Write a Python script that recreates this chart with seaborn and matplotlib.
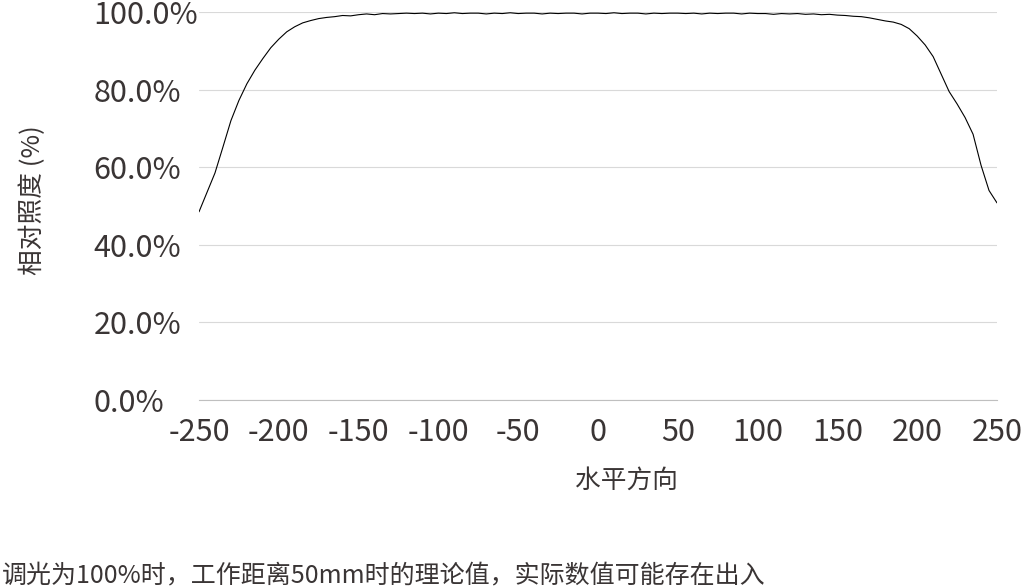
import numpy as np
import matplotlib
matplotlib.use("Agg")
import matplotlib.pyplot as plt
import seaborn as sns
from matplotlib.ticker import PercentFormatter, MultipleLocator

# horizontal position (mm) and relative illuminance (%)
positions = np.arange(-250, 255, 5)
illuminance = [
    48.5, 53.5, 58.5, 65.2, 72.0, 77.2, 81.5, 85.0, 88.0, 90.8,
    93.0, 94.9, 96.2, 97.2, 97.8, 98.3, 98.6, 98.8, 99.1, 99.0,
    99.3, 99.5, 99.3, 99.6, 99.5, 99.6, 99.7, 99.6, 99.7, 99.5,
    99.7, 99.6, 99.8, 99.6, 99.7, 99.7, 99.5, 99.7, 99.6, 99.8,
    99.6, 99.7, 99.7, 99.5, 99.7, 99.6, 99.7, 99.7, 99.5, 99.7,
    99.7, 99.6, 99.8, 99.6, 99.7, 99.7, 99.5, 99.7, 99.6, 99.7,
    99.7, 99.6, 99.7, 99.5, 99.7, 99.6, 99.7, 99.7, 99.5, 99.7,
    99.6, 99.6, 99.4, 99.6, 99.5, 99.6, 99.4, 99.5, 99.3, 99.4,
    99.2, 99.1, 98.9, 98.8, 98.5, 98.1, 97.7, 97.4, 96.8, 95.7,
    93.8, 91.5, 88.5, 84.0, 79.5, 76.3, 72.8, 68.5, 60.5, 54.0,
    50.8,
]
x_ticks = [-250, -200, -150, -100, -50, 0, 50, 100, 150, 200, 250]

sns.set_style("white")
plt.rcParams['font.family'] = ['Noto Sans CJK SC', 'DejaVu Sans']
plt.rcParams['axes.unicode_minus'] = False

text_color = '#3a3535'

fig = plt.figure(figsize=(10.23, 5.86), dpi=100)
ax = fig.add_axes([199 / 1023, 1 - 400 / 586, 798 / 1023, 388 / 586])

sns.lineplot(x=positions, y=illuminance, ax=ax, color='black', linewidth=0.8)

ax.set_xlim(-250, 250)
ax.set_ylim(0, 100)
ax.set_xticks(x_ticks)
ax.yaxis.set_major_locator(MultipleLocator(20))
ax.yaxis.set_major_formatter(PercentFormatter(100, decimals=1))
ax.grid(axis='y', color='#d9d9d9', linewidth=0.8)
ax.set_axisbelow(True)

for side in ['top', 'right', 'left']:
    ax.spines[side].set_visible(False)
ax.spines['bottom'].set_color('#bfbfbf')
ax.spines['bottom'].set_linewidth(0.8)

ax.tick_params(axis='both', length=0, labelsize=22, labelcolor=text_color)
ax.tick_params(axis='y', pad=76)
ax.tick_params(axis='x', pad=12)
for lbl in ax.get_yticklabels():
    lbl.set_horizontalalignment('left')
ax.set_xlabel('')
ax.set_ylabel('')

fig.text(626 / 1023, 1 - 481 / 586, '水平方向', ha='center', va='center',
         fontsize=18.5, color=text_color)
fig.text(33 / 1023, 1 - 200 / 586, '相对照度 (%)', ha='center', va='center',
         rotation=90, fontsize=18.5, color=text_color)
fig.text(2 / 1023, 1 - 575 / 586, '调光为100%时，工作距离50mm时的理论值，实际数值可能存在出入',
         ha='left', va='center', fontsize=18, color=text_color)

fig.savefig('out.png', dpi=100)
